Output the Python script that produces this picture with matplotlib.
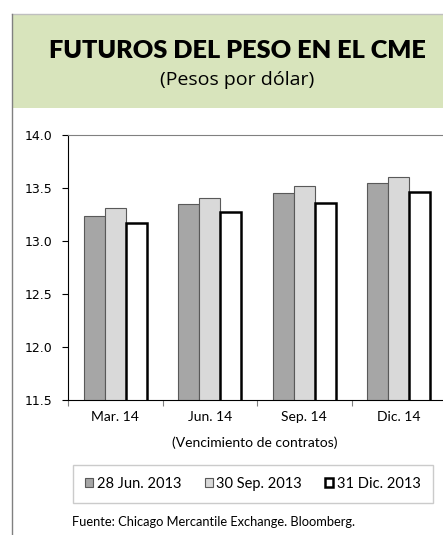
import matplotlib.pyplot as plt
import matplotlib.patches as mpatches
from matplotlib.lines import Line2D
import numpy as np

plt.rcParams['font.family'] = ['Lato', 'DejaVu Sans']

categorias = ['Mar. 14', 'Jun. 14', 'Sep. 14', 'Dic. 14']
serie_jun = [13.24, 13.35, 13.45, 13.55]
serie_sep = [13.31, 13.41, 13.52, 13.60]
serie_dic = [13.17, 13.27, 13.36, 13.46]
nombres = ['28 Jun. 2013', '30 Sep. 2013', '31 Dic. 2013']

W, H = 443, 535
fig = plt.figure(figsize=(W / 100, H / 100), dpi=100)

def fx(px):
    return px / W

def fy(py):
    return 1 - py / H

# marco y encabezado verde
fig.patches.append(mpatches.Rectangle((fx(12), fy(108)), fx(443 - 12), (108 - 14) / H,
                                      transform=fig.transFigure, facecolor='#D8E4BC',
                                      edgecolor='none', zorder=0))
fig.lines.append(Line2D([fx(12), 1], [fy(14), fy(14)], transform=fig.transFigure,
                        color='#BFBFBF', lw=1))
fig.lines.append(Line2D([fx(12), fx(12)], [fy(14), 0], transform=fig.transFigure,
                        color='#808080', lw=1))

fig.text(fx(237), fy(51), 'FUTUROS DEL PESO EN EL CME', ha='center', va='center',
         fontsize=18.2, fontweight='heavy', color='black')
fig.text(fx(237), fy(80), '(Pesos por dólar)', ha='center', va='center',
         fontsize=14, family=['Open Sans', 'DejaVu Sans'], color='black')

ax = fig.add_axes([fx(68), fy(400), fx(446 - 68), (400 - 135) / H])

x = np.arange(len(categorias))
w = 0.222
ax.bar(x - w, serie_jun, w, color='#A6A6A6', edgecolor='#595959', lw=0.8,
       label=nombres[0])
ax.bar(x, serie_sep, w, color='#D9D9D9', edgecolor='#595959', lw=0.8, label=nombres[1])
ax.bar(x + w, serie_dic, w, color='white', edgecolor='black', lw=1.8, label=nombres[2])

yt = np.arange(11.5, 14.01, 0.5)
ax.set_ylim(11.5, 14.0)
ax.set_xlim(-0.5, len(categorias) - 0.5)
ax.set_yticks(yt)
ax.set_yticklabels([f'{v:.1f}' for v in yt], fontsize=9, family='DejaVu Sans')
ax.set_xticks(np.arange(-0.5, len(categorias), 1.0))
ax.set_xticklabels([])
ax.set_xticks(x, minor=True)
ax.set_xticklabels(categorias, minor=True, fontsize=10)
ax.tick_params(axis='x', which='minor', length=0, pad=8)
ax.tick_params(axis='x', which='major', length=4, direction='out', color='#808080')
ax.tick_params(axis='y', length=4, direction='out', pad=7)

ax.spines['right'].set_visible(False)
ax.spines['top'].set_color('#808080')
ax.spines['left'].set_color('black')
ax.spines['bottom'].set_color('black')

fig.text(fx(255), fy(443), '(Vencimiento de contratos)', ha='center', va='center',
         fontsize=10)

handles = [
    mpatches.Patch(facecolor='#A6A6A6', edgecolor='#595959', lw=0.8),
    mpatches.Patch(facecolor='#D9D9D9', edgecolor='#595959', lw=0.8),
    mpatches.Patch(facecolor='white', edgecolor='black', lw=1.8),
]
leg = fig.legend(handles, nombres, loc='center', bbox_to_anchor=(fx(253), fy(484)),
                 ncol=3, fontsize=10.5, frameon=True, fancybox=False,
                 handlelength=0.55, handleheight=0.55, handletextpad=0.25,
                 columnspacing=1.6, borderpad=0.8)
leg.get_frame().set_edgecolor('#BFBFBF')
leg.get_frame().set_linewidth(1)

fig.text(fx(72), fy(522), 'Fuente: Chicago Mercantile Exchange. Bloomberg.',
         ha='left', va='center', fontsize=9.3)

fig.savefig('out.png', dpi=100)
